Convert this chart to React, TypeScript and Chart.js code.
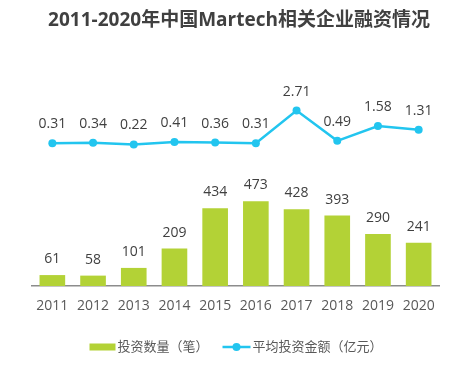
import React, { useEffect, useRef } from "react";
import { Chart, registerables } from "chart.js";

Chart.register(...registerables);

const TITLE = "2011-2020年中国Martech相关企业融资情况";
const years = ["2011", "2012", "2013", "2014", "2015", "2016", "2017", "2018", "2019", "2020"];
const dealCounts = [61, 58, 101, 209, 434, 473, 428, 393, 290, 241];
const avgAmounts = [0.31, 0.34, 0.22, 0.41, 0.36, 0.31, 2.71, 0.49, 1.58, 1.31];
const barLabel = "投资数量（笔）";
const lineLabel = "平均投资金额（亿元）";

const BAR_COLOR = "#b3d236";
const LINE_COLOR = "#22c5ef";
const FONT = "'Open Sans', 'Noto Sans CJK SC', sans-serif";

const decorPlugin = {
  id: "decor",
  afterDatasetsDraw(chart: any) {
    const ctx = chart.ctx;
    ctx.save();
    chart.data.datasets.forEach((ds: any, di: number) => {
      const meta = chart.getDatasetMeta(di);
      meta.data.forEach((el: any, i: number) => {
        const v = ds.data[i];
        const txt = ds.type === "line" ? v.toFixed(2) : String(v);
        const off = ds.type === "line" ? 19 : 16;
        ctx.font = `14px ${FONT}`;
        ctx.fillStyle = "#404040";
        ctx.textAlign = "center";
        ctx.textBaseline = "middle";
        ctx.fillText(txt, el.x, el.y - off);
      });
    });
    ctx.restore();
  },
  afterDraw(chart: any) {
    const ctx = chart.ctx;
    const W = chart.width;
    ctx.save();
    ctx.font = `bold 19px ${FONT}`;
    ctx.fillStyle = "#404040";
    ctx.textAlign = "center";
    ctx.textBaseline = "middle";
    ctx.fillText(TITLE, W / 2 + 3, 21);
    ctx.font = `13px ${FONT}`;
    const t1 = ctx.measureText(barLabel).width;
    const t2 = ctx.measureText(lineLabel).width;
    const rectW = 26, lineW = 28, gap = 2, between = 14;
    const total = rectW + gap + t1 + between + lineW + gap + t2;
    let x = W / 2 - total / 2;
    const y = 347;
    ctx.fillStyle = BAR_COLOR;
    ctx.fillRect(x, y - 3.5, rectW, 7);
    x += rectW + gap;
    ctx.fillStyle = "#595959";
    ctx.textAlign = "left";
    ctx.fillText(barLabel, x, y);
    x += t1 + between;
    ctx.strokeStyle = LINE_COLOR;
    ctx.lineWidth = 2.5;
    ctx.beginPath();
    ctx.moveTo(x, y);
    ctx.lineTo(x + lineW, y);
    ctx.stroke();
    ctx.fillStyle = LINE_COLOR;
    ctx.beginPath();
    ctx.arc(x + lineW / 2, y, 4, 0, Math.PI * 2);
    ctx.fill();
    x += lineW + gap;
    ctx.fillStyle = "#595959";
    ctx.fillText(lineLabel, x, y);
    ctx.restore();
  },
};

export default function App() {
  const ref = useRef<HTMLCanvasElement>(null);
  useEffect(() => {
    if (!ref.current) return;
    const chart = new Chart(ref.current, {
      type: "bar",
      data: {
        labels: years,
        datasets: [
          {
            type: "line",
            label: lineLabel,
            data: avgAmounts,
            yAxisID: "y1",
            borderColor: LINE_COLOR,
            backgroundColor: LINE_COLOR,
            borderWidth: 2.5,
            pointRadius: 4,
            pointBackgroundColor: LINE_COLOR,
            pointBorderWidth: 0,
            tension: 0,
            order: 0,
          } as any,
          {
            type: "bar",
            label: barLabel,
            data: dealCounts,
            yAxisID: "y",
            backgroundColor: BAR_COLOR,
            barPercentage: 0.63,
            categoryPercentage: 1,
            order: 1,
          },
        ],
      },
      plugins: [decorPlugin],
      options: {
        responsive: true,
        maintainAspectRatio: false,
        animation: false,
        layout: { padding: { left: 32, right: 33, top: 60, bottom: 62 } },
        plugins: {
          legend: { display: false },
          title: { display: false },
          tooltip: { enabled: false },
        },
        scales: {
          x: {
            grid: { display: false, drawTicks: false },
            border: { color: "#8c8c8c", width: 1.5 },
            ticks: {
              color: "#595959",
              font: { size: 14, family: FONT },
              padding: 12,
              maxRotation: 0,
            },
            afterFit: (scale: any) => {
              scale.height = 30;
            },
          },
          y: { display: false, min: 0, max: 1262 },
          y1: { display: false, min: -10.18, max: 6.43 },
        },
      },
    });
    return () => chart.destroy();
  }, []);
  return (
    <div style={{ position: "fixed", left: 0, top: 0, width: 472, height: 378, background: "#fff" }}>
      <canvas ref={ref} />
    </div>
  );
}
